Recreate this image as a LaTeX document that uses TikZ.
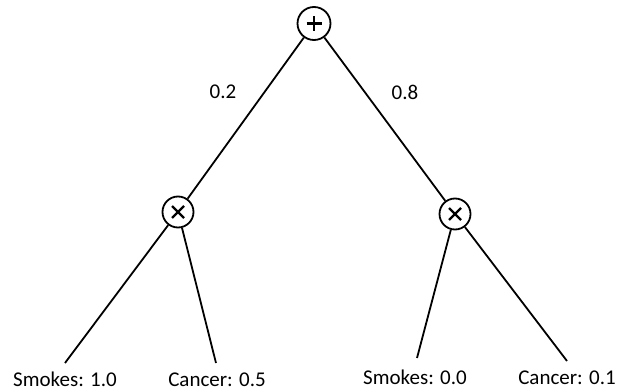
\documentclass[tikz,border=0pt]{standalone}
\usepackage{fontspec}
\setmainfont{Carlito}
\begin{document}
\begin{tikzpicture}[x=1pt,y=-1pt,
  edge/.style={line width=1.8pt},
  opnode/.style={circle,draw,line width=1.8pt,minimum size=31pt,inner sep=0pt},
  plusnode/.style={opnode,path picture={
     \draw[line width=2.2pt] ([xshift=-7.5pt]path picture bounding box.center) -- ([xshift=7.5pt]path picture bounding box.center);
     \draw[line width=2.2pt] ([yshift=-7.5pt]path picture bounding box.center) -- ([yshift=7.5pt]path picture bounding box.center);}},
  timesnode/.style={opnode,path picture={
     \draw[line width=2.2pt] ([shift={(-6pt,-6pt)}]path picture bounding box.center) -- ([shift={(6pt,6pt)}]path picture bounding box.center);
     \draw[line width=2.2pt] ([shift={(-6pt,6pt)}]path picture bounding box.center) -- ([shift={(6pt,-6pt)}]path picture bounding box.center);}},
  lbl/.style={font=\fontsize{21}{24}\selectfont,inner sep=0pt}
]
\useasboundingbox (0,0) rectangle (618,390);
\node[plusnode,minimum size=33pt] (root) at (314,23.5) {};
\node[timesnode] (p1) at (178,212) {};
\node[timesnode] (p2) at (455,214) {};
\coordinate (l1) at (65,363);
\coordinate (l2) at (216,363);
\coordinate (l3) at (417,358);
\coordinate (l4) at (567,361);
\draw[edge] (root) -- (p1);
\draw[edge] (root) -- (p2);
\draw[edge] (p1) -- (l1);
\draw[edge] (p1) -- (l2);
\draw[edge] (p2) -- (l3);
\draw[edge] (p2) -- (l4);
\node[lbl] (w1) at (223,92) {0.2};
\node[lbl] (w2) at (405,92) {0.8};
\node[lbl,anchor=base] (t1) at (65,386) {Smokes: 1.0};
\node[lbl,anchor=base] (t2) at (217,386) {Cancer: 0.5};
\node[lbl,anchor=base] (t3) at (415,384) {Smokes: 0.0};
\node[lbl,anchor=base] (t4) at (567,384.5) {Cancer: 0.1};
\end{tikzpicture}
\end{document}
